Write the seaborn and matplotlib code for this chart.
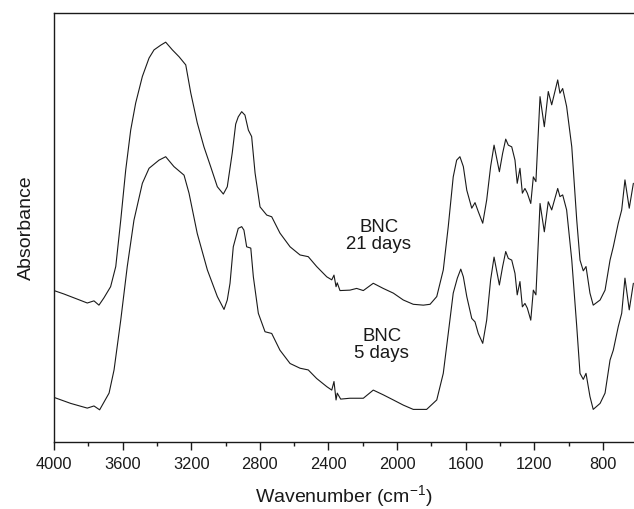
import matplotlib
matplotlib.use("Agg")
import matplotlib.pyplot as plt
from matplotlib.ticker import MultipleLocator
import seaborn as sns
import pandas as pd

# ---- data (wavenumber in cm^-1, absorbance in arbitrary units) ----
wn_21 = [4000, 3942, 3864, 3806, 3767, 3738, 3709, 3670, 3640, 3611, 3582, 3553, 3524,
         3485, 3446, 3417, 3378, 3349, 3310, 3271, 3232, 3203, 3165, 3126, 3087, 3048,
         3013, 2990, 2961, 2941, 2926, 2906, 2887, 2867, 2848, 2828, 2799, 2760, 2731,
         2683, 2624, 2566, 2518, 2469, 2410, 2381, 2368, 2356, 2349, 2333, 2275, 2236,
         2197, 2139, 2081, 2022, 1964, 1906, 1847, 1808, 1769, 1731, 1702, 1673, 1653,
         1634, 1614, 1594, 1565, 1546, 1527, 1501, 1478, 1455, 1435, 1404, 1385, 1367,
         1352, 1332, 1313, 1300, 1284, 1270, 1255, 1241, 1221, 1206, 1191, 1167, 1142,
         1119, 1099, 1064, 1051, 1035, 1012, 982, 953, 934, 915, 899, 876, 857, 817,
         788, 759, 740, 711, 691, 672, 647, 623]
abs_21 = [0.353, 0.345, 0.333, 0.324, 0.329, 0.319, 0.336, 0.362, 0.409, 0.517, 0.634,
          0.727, 0.790, 0.852, 0.895, 0.914, 0.925, 0.932, 0.914, 0.898, 0.879, 0.814,
          0.744, 0.688, 0.642, 0.595, 0.578, 0.595, 0.674, 0.741, 0.758, 0.770, 0.762,
          0.727, 0.712, 0.627, 0.548, 0.529, 0.525, 0.487, 0.455, 0.436, 0.432, 0.409,
          0.385, 0.378, 0.389, 0.362, 0.371, 0.353, 0.354, 0.358, 0.353, 0.370, 0.358,
          0.347, 0.331, 0.321, 0.319, 0.321, 0.339, 0.401, 0.502, 0.618, 0.657, 0.665,
          0.642, 0.587, 0.545, 0.558, 0.537, 0.510, 0.564, 0.642, 0.692, 0.630, 0.673,
          0.706, 0.692, 0.688, 0.657, 0.603, 0.638, 0.580, 0.591, 0.580, 0.556, 0.618,
          0.607, 0.805, 0.735, 0.817, 0.786, 0.844, 0.813, 0.824, 0.782, 0.688, 0.517,
          0.424, 0.399, 0.409, 0.347, 0.319, 0.331, 0.354, 0.424, 0.455, 0.510, 0.541,
          0.611, 0.545, 0.603]

wn_5 = [4000, 3903, 3806, 3767, 3734, 3679, 3650, 3611, 3573, 3534, 3485, 3446, 3388,
        3349, 3301, 3242, 3213, 3165, 3106, 3048, 3009, 2990, 2974, 2955, 2926, 2906,
        2893, 2877, 2853, 2838, 2809, 2770, 2731, 2683, 2624, 2566, 2518, 2469, 2410,
        2381, 2368, 2356, 2349, 2329, 2275, 2197, 2139, 2081, 2022, 1964, 1906, 1828,
        1769, 1731, 1702, 1673, 1649, 1629, 1614, 1594, 1565, 1546, 1527, 1501, 1478,
        1455, 1435, 1404, 1385, 1367, 1352, 1332, 1313, 1300, 1284, 1270, 1255, 1241,
        1221, 1206, 1191, 1167, 1142, 1119, 1099, 1064, 1051, 1035, 1012, 982, 953,
        934, 915, 899, 876, 857, 817, 788, 759, 740, 711, 691, 672, 647, 623]
abs_5 = [0.104, 0.090, 0.079, 0.084, 0.075, 0.114, 0.168, 0.284, 0.409, 0.517, 0.603,
         0.638, 0.657, 0.665, 0.642, 0.622, 0.580, 0.486, 0.401, 0.339, 0.309, 0.331,
         0.370, 0.455, 0.498, 0.502, 0.494, 0.455, 0.452, 0.385, 0.300, 0.257, 0.253,
         0.214, 0.183, 0.172, 0.168, 0.148, 0.129, 0.121, 0.141, 0.098, 0.114, 0.100,
         0.102, 0.102, 0.121, 0.110, 0.098, 0.086, 0.076, 0.076, 0.098, 0.160, 0.253,
         0.347, 0.382, 0.403, 0.385, 0.339, 0.288, 0.280, 0.253, 0.230, 0.284, 0.378,
         0.431, 0.366, 0.409, 0.444, 0.428, 0.424, 0.393, 0.343, 0.374, 0.315, 0.323,
         0.312, 0.284, 0.354, 0.343, 0.556, 0.490, 0.560, 0.541, 0.591, 0.572, 0.576,
         0.541, 0.424, 0.269, 0.160, 0.146, 0.160, 0.106, 0.076, 0.090, 0.114, 0.191,
         0.214, 0.269, 0.300, 0.382, 0.308, 0.370]

labels = ["BNC\n21 days", "BNC\n5 days"]
label_pos_wn = [2106, 2090]
label_pos_abs = [0.480, 0.226]
major_ticks = [4000, 3600, 3200, 2800, 2400, 2000, 1600, 1200, 800]

# ---- plotting ----
sns.set_theme(style="ticks")
plt.rcParams["font.family"] = ["Liberation Sans", "DejaVu Sans"]
plt.rcParams["mathtext.fontset"] = "custom"
plt.rcParams["mathtext.rm"] = "Liberation Sans"

fig = plt.figure(figsize=(6.34, 5.09), dpi=100)
ax = fig.add_axes([54 / 634, 1 - 442 / 509, 1 - 54 / 634, (442 - 13) / 509])

df21 = pd.DataFrame({"wn": wn_21, "A": abs_21})
df5 = pd.DataFrame({"wn": wn_5, "A": abs_5})
sns.lineplot(data=df21, x="wn", y="A", ax=ax, color="#1a1a1a", lw=0.8, estimator=None)
sns.lineplot(data=df5, x="wn", y="A", ax=ax, color="#1a1a1a", lw=0.8, estimator=None)

for t, xw, ya in zip(labels, label_pos_wn, label_pos_abs):
    ax.text(xw, ya, t, ha="center", va="center", fontsize=13.4, color="#1a1a1a",
            linespacing=1.0)

ax.set_xlim(4000, 619.3)
ax.set_ylim(0, 1)
ax.set_xticks(major_ticks)
ax.set_xticklabels([str(v) for v in major_ticks])
ax.xaxis.set_minor_locator(MultipleLocator(200))
ax.set_yticks([])
ax.tick_params(axis="x", which="major", direction="out", length=5.8, width=1.0,
               labelsize=11.8, colors="#1a1a1a", pad=5)
ax.tick_params(axis="x", which="minor", direction="out", length=2.6, width=1.0,
               colors="#1a1a1a")
for side in ["left", "top", "bottom"]:
    ax.spines[side].set_linewidth(1.0)
    ax.spines[side].set_color("#1a1a1a")
ax.spines["right"].set_visible(False)

ax.set_xlabel("Wavenumber (cm$^{\\mathrm{-1}}$)", fontsize=14, color="#1a1a1a", labelpad=8)
ax.set_ylabel("Absorbance", fontsize=14, color="#1a1a1a", labelpad=14)

fig.savefig("out.png", dpi=100)
